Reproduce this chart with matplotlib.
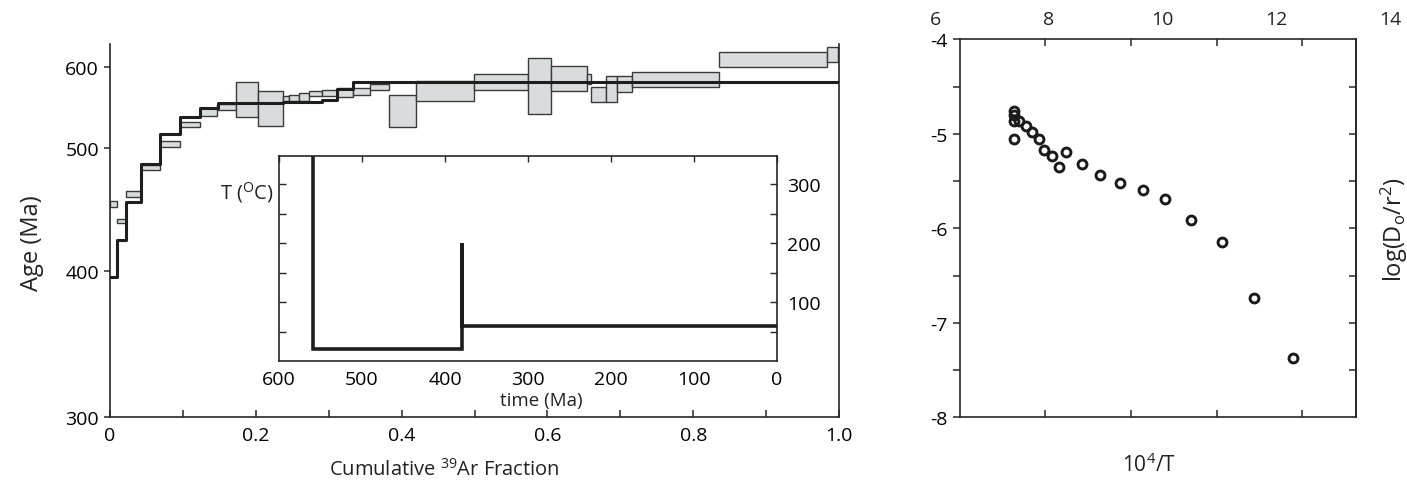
import numpy as np
import matplotlib
matplotlib.use("Agg")
import matplotlib.pyplot as plt
from matplotlib import font_manager as fm
import matplotlib.transforms as mtransforms

# ---------------- data ----------------
# step-heating boxes: cumulative fraction range, age range (Ma)
box_f_lo = [0.000, 0.010, 0.0215, 0.042, 0.0685, 0.096, 0.123, 0.147, 0.173, 0.203,
            0.237, 0.245, 0.259, 0.273, 0.291, 0.311, 0.334, 0.356, 0.383, 0.420,
            0.499, 0.573, 0.605, 0.655, 0.660, 0.681, 0.696, 0.716, 0.836, 0.983]
box_f_hi = [0.010, 0.0215, 0.042, 0.0685, 0.096, 0.123, 0.147, 0.173, 0.203, 0.237,
            0.245, 0.259, 0.273, 0.291, 0.311, 0.334, 0.356, 0.383, 0.420, 0.499,
            0.573, 0.605, 0.655, 0.660, 0.681, 0.696, 0.716, 0.836, 0.983, 0.998]
box_age_lo = [452, 439, 460, 482, 501.6, 525.6, 540, 547.6, 539, 528,
              557.7, 557.7, 558.5, 563.8, 564, 562.5, 565.5, 571.6, 525.6, 558,
              572, 542.3, 570, 579, 556.5, 556.5, 568.7, 576, 600, 605.7]
box_age_hi = [457, 442.5, 465, 486, 509, 532, 549.6, 554.6, 582, 570,
              563.8, 565.5, 567.5, 570, 572, 574, 574, 578.8, 565.5, 583,
              592, 610.6, 601, 591, 576, 589, 589, 594, 618, 624]

# model age spectrum (step line)
model_edges = [0, 0.009, 0.022, 0.0426, 0.0687, 0.096, 0.123, 0.148, 0.237, 0.291, 0.311, 0.334, 1.0]
model_ages = [396, 425, 456, 487.5, 517, 539, 550, 556, 557.5, 559.5, 573.5, 582]

# inset thermal history
hist_time = [559, 559, 379, 379, 379, 0]
hist_temp = [360, 20, 20, 200, 60, 60]

# Arrhenius plot
arr_x = [7.38, 7.38, 7.38, 7.48, 7.60, 7.70, 7.83, 7.38, 7.92, 8.05, 8.18, 8.31,
         8.58, 8.90, 9.25, 9.65, 10.05, 10.50, 11.04, 11.61, 12.29]
arr_y = [-4.755, -4.80, -4.86, -4.86, -4.92, -4.98, -5.055, -5.055, -5.17, -5.24, -5.355, -5.19,
         -5.32, -5.44, -5.52, -5.595, -5.69, -5.915, -6.145, -6.74, -7.375]

main_xticks = [0, 0.2, 0.4, 0.6, 0.8, 1.0]
main_xticklabels = ["0", "0.2", "0.4", "0.6", "0.8", "1.0"]
main_yticks = [300, 400, 500, 600]
inset_xticks = [600, 500, 400, 300, 200, 100, 0]
inset_yticks = [100, 200, 300]
arr_top_labels = [6, 8, 10, 12, 14]
arr_tick_marks = [7.94, 9.44, 10.95, 12.45]
arr_yticks = [-8, -7, -6, -5, -4]

# ---------------- fonts ----------------
names = {f.name for f in fm.fontManager.ttflist}
base = "Open Sans" if "Open Sans" in names else "DejaVu Sans"
narrow = "Liberation Sans Narrow" if "Liberation Sans Narrow" in names else base
plt.rcParams["font.family"] = [base, "DejaVu Sans"]
plt.rcParams["mathtext.fontset"] = "custom"
plt.rcParams["mathtext.rm"] = base
plt.rcParams["mathtext.it"] = base
plt.rcParams["mathtext.bf"] = base
plt.rcParams["axes.unicode_minus"] = False

INK = "#262626"
TXT = "#222222"
TS = 14
fig = plt.figure(figsize=(14.07, 4.85), dpi=100)

# ---------------- main age spectrum ----------------
ax = fig.add_axes([110 / 1407, 1 - 418.3 / 485, 729 / 1407, 373.3 / 485])
ak = np.array([0.0, 300, 400, 500, 600, 1000])
pk = np.array([-439.8, 0.0, 146.6, 269.0, 350.3, 675.5])
fwd = lambda v: np.interp(np.asarray(v, float), ak, pk)
inv = lambda p: np.interp(np.asarray(p, float), pk, ak)
ax.set_yscale("function", functions=(fwd, inv))
ax.set_ylim(300, float(inv(373.3)))
ax.set_xlim(0, 1)

lo = np.array(box_age_lo); hi = np.array(box_age_hi)
flo = np.array(box_f_lo); fhi = np.array(box_f_hi)
ax.bar(flo, hi - lo, width=fhi - flo, bottom=lo, align="edge",
       color="#d9dcdd", edgecolor="#3a3a3a", linewidth=1.0, zorder=2)
ax.step(model_edges, model_ages + [model_ages[-1]], where="post",
        color="#1e1e1e", lw=2.2, zorder=3)

ax.spines["top"].set_visible(False)
for s in ["left", "right", "bottom"]:
    ax.spines[s].set_linewidth(1.2)
    ax.spines[s].set_color(INK)
ax.set_xticks(main_xticks)
ax.set_xticklabels(main_xticklabels, fontfamily=narrow)
ax.set_xticks(np.arange(0.1, 1.0, 0.2), minor=True)
ax.tick_params(axis="x", which="both", direction="in", length=5, width=1.1,
               color=INK, pad=6, labelsize=TS)
ax.set_yticks(main_yticks)
ax.set_yticklabels([str(v) for v in main_yticks])
ax.yaxis.set_minor_locator(matplotlib.ticker.NullLocator())
ax.tick_params(axis="y", direction="out", length=4, width=1.1, color=INK,
               pad=4, labelsize=TS)

fig.text(32 / 1407, 1 - 243 / 485, "Age (Ma)", rotation=90, ha="center",
         va="center", fontsize=17, color=TXT)
fig.text(444 / 1407, 1 - 470 / 485, r"Cumulative $^{39}$Ar Fraction",
         ha="center", va="center", fontsize=14.5, color=TXT)

# ---------------- inset thermal history ----------------
axi = fig.add_axes([279 / 1407, 1 - 362.3 / 485, 498 / 1407, 205.6 / 485])
axi.set_facecolor("white")
axi.set_zorder(5)
axi.plot(hist_time, hist_temp, color="#1e1e1e", lw=2.6, solid_joinstyle="miter")
axi.set_xlim(600, 0)
axi.set_ylim(0, 348)
for s in axi.spines.values():
    s.set_linewidth(1.2)
    s.set_color(INK)
axi.set_xticks(inset_xticks)
axi.set_xticklabels([str(v) for v in inset_xticks])
axi.tick_params(axis="x", direction="in", top=True, bottom=False, labelbottom=True,
                length=4, width=1.0, color=INK, pad=6, labelsize=TS)
axi.set_yticks(inset_yticks)
axi.set_yticklabels([str(v) for v in inset_yticks])
axi.set_yticks([50, 150, 250], minor=True)
axi.tick_params(axis="y", which="both", direction="in", left=True, right=True,
                labelleft=False, labelright=True, length=5, width=1.0,
                color=INK, pad=7, labelsize=TS)
fig.text(541 / 1407, 1 - 401 / 485, "time (Ma)", ha="center", va="center",
         fontsize=13.5, color=TXT)
fig.text(274 / 1407, 1 - 193 / 485, r"T ($^{\mathrm{O}}$C)", ha="right",
         va="center", fontsize=14.5, color=TXT)

# ---------------- Arrhenius plot ----------------
axr = fig.add_axes([960 / 1407, 1 - 418.3 / 485, 396 / 1407, 378 / 485])
axr.set_xlim(6.439, 13.399)
axr.set_ylim(-8, -4)
axr.plot(arr_x, arr_y, "o", mfc="none", mec="#1a1a1a", ms=6.4, mew=2.1,
         clip_on=False, zorder=3)
for s in axr.spines.values():
    s.set_linewidth(1.2)
    s.set_color(INK)
axr.set_xticks(arr_tick_marks)
axr.tick_params(axis="x", direction="in", top=True, bottom=True,
                labelbottom=False, labeltop=False, length=5, width=1.1, color=INK)
blend = mtransforms.blended_transform_factory(axr.transData, axr.transAxes)
for v in arr_top_labels:
    axr.text(v, 1 + 20 / 378, str(v), transform=blend, ha="center", va="center",
             fontsize=TS, color=TXT, clip_on=False)
axr.set_yticks(arr_yticks)
axr.set_yticklabels([str(v) for v in arr_yticks])
axr.set_yticks(np.arange(-7.5, -4.0, 1.0), minor=True)
axr.tick_params(axis="y", which="both", direction="out", left=True, right=False,
                length=5, width=1.1, color=INK, pad=4, labelsize=TS)
sec = axr.secondary_yaxis("right")
sec.set_yticks(np.arange(-7.5, -4.0, 0.5))
sec.tick_params(axis="y", direction="in", length=5, width=1.1, color=INK,
                labelright=False)
sec.spines["right"].set_linewidth(1.2)
sec.spines["right"].set_color(INK)

fig.text(1149 / 1407, 1 - 465 / 485, r"10$^4$/T", ha="center", va="center",
         fontsize=15, color=TXT)
fig.text(1394 / 1407, 1 - 230 / 485, r"log(D$_{\mathrm{o}}$/r$^2$)", rotation=90,
         ha="center", va="center", fontsize=17, color=TXT)

fig.savefig("out.png", dpi=100)
